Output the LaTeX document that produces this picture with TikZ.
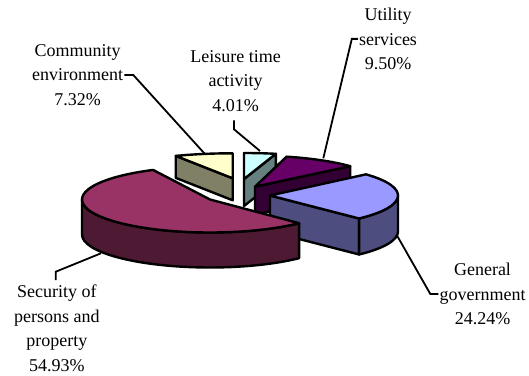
\documentclass[tikz,border=0pt]{standalone}
\usepackage{fontspec}
\setmainfont{Liberation Serif}
\definecolor{secT}{HTML}{993366}
\definecolor{secS}{HTML}{4D1933}
\definecolor{ggT}{HTML}{9999FF}
\definecolor{ggS}{HTML}{4D4D80}
\definecolor{utT}{HTML}{660066}
\definecolor{utS}{HTML}{330033}
\definecolor{lsT}{HTML}{CCFFFF}
\definecolor{lsS}{HTML}{668080}
\definecolor{cmT}{HTML}{FFFFCC}
\definecolor{cmS}{HTML}{808066}
\begin{document}
\begin{tikzpicture}[x=1pt,y=1pt,
  pie/.style={draw=black,line width=2.4pt,line join=round},
  lead/.style={draw=black,line width=1.8pt},
  lbl/.style={align=center,inner sep=1pt,font=\fontsize{18}{24.5}\selectfont}]
\useasboundingbox (0,0) rectangle (529,375);

% labels
\node[lbl] (cm) at (77.6,300) {Community\\environment\\7.32\%};
\node[lbl] (ls) at (235.5,294) {Leisure time\\activity\\4.01\%};
\node[lbl] (ut) at (388,336.1) {Utility\\services\\9.50\%};
\node[lbl] (gg) at (482.5,81) {General\\government\\24.24\%};
\node[lbl] (sc) at (56.8,46.5) {Security of\\persons and\\property\\54.93\%};

% leader ends on the pie
\coordinate (cmE) at (204.3,221.7);
\coordinate (lsE) at (260,224);
\coordinate (utE) at (323.3,216.7);
\coordinate (ggE) at (396.7,140);
\coordinate (scE) at (101,121.7);

\draw[lead] (cm.east) -- ++(9,0) -- (cmE);
\draw[lead] ([shift={(-1.5,-7.5)}]ls.south) -- ++(0,-9) -- (lsE);
\draw[lead] (ut.west) -- ++(-6,0) -- (utE);
\draw[lead] (gg.west) -- ++(-8,0) -- (ggE);
\draw[lead] ([shift={(-1,4)}]sc.north) -- ++(0,8.4) -- (scE);

% Community environment
\coordinate (C) at (232.7,196.7);
\filldraw[pie,fill=cmS] (C) -- ([shift={(116.4:128pt and 25pt)}]C) -- ++(0,-22) -- ([shift={(0,-22)}]C) -- cycle;
\filldraw[pie,fill=cmT] (C) -- ([shift={(90:128pt and 25pt)}]C) arc[start angle=90,end angle=116.4,x radius=128pt,y radius=25pt] -- cycle;

% Leisure time activity
\coordinate (L) at (244,196);
\filldraw[pie,fill=lsS] (L) -- ([shift={(75.6:128pt and 26pt)}]L) -- ++(0,-27) -- ([shift={(0,-27)}]L) -- cycle;
\filldraw[pie,fill=lsT] (L) -- ([shift={(75.6:128pt and 26pt)}]L) arc[start angle=75.6,end angle=90,x radius=128pt,y radius=26pt] -- cycle;

% Utility services
\coordinate (U) at (255,188.3);
\filldraw[pie,fill=utS] (U) -- ([shift={(41.4:127pt and 31pt)}]U) -- ++(0,-28) -- ([shift={(0,-28)}]U) -- cycle;
\filldraw[pie,fill=utT] (U) -- ([shift={(41.4:127pt and 31pt)}]U) arc[start angle=41.4,end angle=75.6,x radius=127pt,y radius=31pt] -- cycle;

% General government
\coordinate (G) at (270,179.5);
\filldraw[pie,fill=ggS] (G) -- ([shift={(-45.9:128pt and 32pt)}]G) -- ++(0,-36) -- ([shift={(0,-36)}]G) -- cycle;
\filldraw[pie,fill=ggS] ([shift={(-45.9:128pt and 32pt)}]G) arc[start angle=-45.9,end angle=0,x radius=128pt,y radius=32pt] -- ++(0,-36) arc[start angle=0,end angle=-45.9,x radius=128pt,y radius=32pt] -- cycle;
\filldraw[pie,fill=ggT] (G) -- ([shift={(-45.9:128pt and 32pt)}]G) arc[start angle=-45.9,end angle=41.4,x radius=128pt,y radius=32pt] -- cycle;

% Security of persons and property
\coordinate (S) at (210,175.5);
\filldraw[pie,fill=secS] ([shift={(180:128pt and 33pt)}]S) arc[start angle=180,end angle=314.1,x radius=128pt,y radius=33pt] -- ++(0,-35) arc[start angle=314.1,end angle=180,x radius=128pt,y radius=33pt] -- cycle;
\filldraw[pie,fill=secT] (S) -- ([shift={(116.4:128pt and 33pt)}]S) arc[start angle=116.4,end angle=314.1,x radius=128pt,y radius=33pt] -- cycle;
\end{tikzpicture}
\end{document}
